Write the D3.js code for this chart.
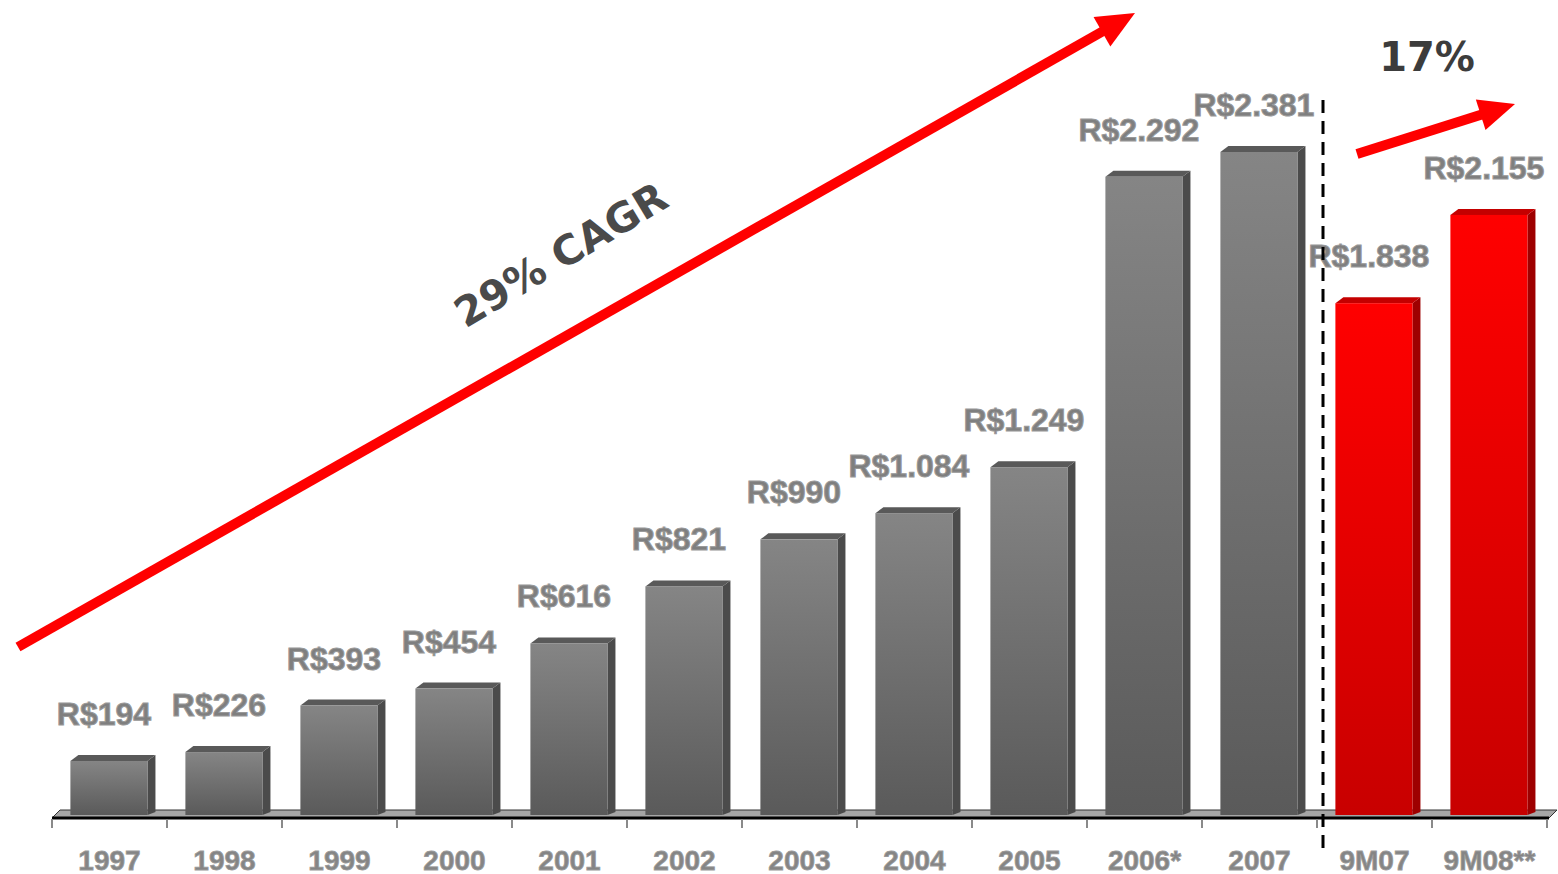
<!DOCTYPE html>
<html>
<head>
<meta charset="utf-8">
<script src="https://cdn.jsdelivr.net/npm/d3@7"></script>
<style>
  body { margin: 0; background: #fff; }
  svg { display: block; }
</style>
</head>
<body>
<div id="chart"></div>
<script>
var categories = ["1997", "1998", "1999", "2000", "2001", "2002", "2003", "2004", "2005", "2006*", "2007", "9M07", "9M08**"];
var values = [194, 226, 393, 454, 616, 821, 990, 1084, 1249, 2292, 2381, 1838, 2155];
var valueLabels = ["R$194", "R$226", "R$393", "R$454", "R$616", "R$821", "R$990", "R$1.084", "R$1.249", "R$2.292", "R$2.381", "R$1.838", "R$2.155"];
var highlighted = ["9M07", "9M08**"];
var cagrText = "29% CAGR";
var growthText = "17%";

var width = 1558;
var height = 874;
var baseY = 815;
var depth = 8;
var rise = 6;

var svg = d3.select("#chart").append("svg").attr("width", width).attr("height", height);

var defs = svg.append("defs");
var gGrey = defs.append("linearGradient").attr("id", "grey").attr("x1", 0).attr("y1", 0).attr("x2", 0).attr("y2", 1);
gGrey.append("stop").attr("offset", "0%").attr("stop-color", "#858585");
gGrey.append("stop").attr("offset", "100%").attr("stop-color", "#5a5a5a");
var gRed = defs.append("linearGradient").attr("id", "red").attr("x1", 0).attr("y1", 0).attr("x2", 0).attr("y2", 1);
gRed.append("stop").attr("offset", "0%").attr("stop-color", "#ff0000");
gRed.append("stop").attr("offset", "100%").attr("stop-color", "#c80000");

var x = d3.scaleBand().domain(categories).range([52, 1547]).padding(0);
var y = d3.scaleLinear().domain([0, 2381]).range([baseY, 152]);

var frontOff = x.bandwidth() * 0.16;
var frontW = x.bandwidth() * 0.67;

// floor / axis
var x0 = x.range()[0], x1 = x.range()[1];
svg.append("polygon")
  .attr("points", [[x0, 818], [x0 + depth, 810], [x1 + depth + 2, 810], [x1 + 2, 818]].join(" "))
  .attr("fill", "#a6a6a6")
  .attr("stroke", "#333")
  .attr("stroke-width", 1);
svg.append("line")
  .attr("x1", x0).attr("x2", x1 + 2)
  .attr("y1", 818).attr("y2", 818)
  .attr("stroke", "#000").attr("stroke-width", 3);

var ticks = categories.map(function (c) { return x(c); }).concat([x1]);
svg.selectAll(".tick")
  .data(ticks)
  .enter()
  .append("line")
  .attr("class", "tick")
  .attr("x1", function (d) { return d; })
  .attr("x2", function (d) { return d; })
  .attr("y1", 819).attr("y2", 828)
  .attr("stroke", "#8a8a8a").attr("stroke-width", 2);

// bars
var bars = svg.selectAll(".bar")
  .data(categories)
  .enter()
  .append("g")
  .attr("class", "bar");

function isRed(c) { return highlighted.indexOf(c) >= 0; }

bars.append("polygon")
  .attr("points", function (c, i) {
    var l = x(c) + frontOff + frontW, t = y(values[i]);
    return [[l, t], [l + depth, t - rise], [l + depth, baseY - 3], [l, baseY]].join(" ");
  })
  .attr("fill", function (c) { return isRed(c) ? "#9e0000" : "#4b4b4b"; });

bars.append("polygon")
  .attr("points", function (c, i) {
    var l = x(c) + frontOff, t = y(values[i]);
    return [[l, t], [l + depth, t - rise], [l + frontW + depth, t - rise], [l + frontW, t]].join(" ");
  })
  .attr("fill", function (c) { return isRed(c) ? "#c40000" : "#595959"; });

bars.append("rect")
  .attr("x", function (c) { return x(c) + frontOff; })
  .attr("y", function (c, i) { return y(values[i]); })
  .attr("width", frontW)
  .attr("height", function (c, i) { return baseY - y(values[i]); })
  .attr("fill", function (c) { return isRed(c) ? "url(#red)" : "url(#grey)"; });

// value labels
svg.selectAll(".val")
  .data(categories)
  .enter()
  .append("text")
  .attr("class", "val")
  .attr("x", function (c) { return x(c) + frontOff + frontW / 2 - 5; })
  .attr("y", function (c, i) { return y(values[i]) - 47; })
  .attr("text-anchor", "middle")
  .attr("dominant-baseline", "central")
  .style("font-family", "'Liberation Sans', Arial, sans-serif")
  .style("font-weight", "bold")
  .style("font-size", "32px")
  .attr("fill", "#7f7f7f")
  .attr("stroke", "#999")
  .attr("stroke-width", 1)
  .text(function (c, i) { return valueLabels[i]; });

// category labels
svg.selectAll(".cat")
  .data(categories)
  .enter()
  .append("text")
  .attr("class", "cat")
  .attr("x", function (c) { return x(c) + x.bandwidth() / 2; })
  .attr("y", 860)
  .attr("text-anchor", "middle")
  .attr("dominant-baseline", "central")
  .style("font-family", "'Liberation Sans', Arial, sans-serif")
  .style("font-weight", "bold")
  .style("font-size", "28px")
  .attr("fill", "#858585")
  .attr("stroke", "#9a9a9a")
  .attr("stroke-width", 0.8)
  .text(function (c) { return c; });

// dashed divider
var divX = (x("2007") + x.bandwidth() + x("9M07")) / 2 + 6;
svg.append("line")
  .attr("x1", divX).attr("x2", divX)
  .attr("y1", 100).attr("y2", 850)
  .attr("stroke", "#000")
  .attr("stroke-width", 3)
  .attr("stroke-dasharray", "13,8");

// arrows
function arrow(sx, sy, tx, ty, headLen, headW, sw) {
  var a = Math.atan2(ty - sy, tx - sx);
  var bx = tx - headLen * Math.cos(a), by = ty - headLen * Math.sin(a);
  svg.append("line")
    .attr("x1", sx).attr("y1", sy)
    .attr("x2", bx + 2 * Math.cos(a)).attr("y2", by + 2 * Math.sin(a))
    .attr("stroke", "#ff0000").attr("stroke-width", sw);
  var px = -Math.sin(a), py = Math.cos(a);
  svg.append("polygon")
    .attr("points", [[tx, ty], [bx + px * headW, by + py * headW], [bx - px * headW, by - py * headW]].join(" "))
    .attr("fill", "#ff0000");
}
arrow(18, 647, 1135, 13, 38, 17, 10);
arrow(1357, 154, 1515, 104, 36, 16, 10);

// annotations
svg.append("text")
  .attr("transform", "translate(561,255) rotate(-31)")
  .attr("text-anchor", "middle")
  .attr("dominant-baseline", "central")
  .style("font-family", "'DejaVu Sans', Verdana, sans-serif")
  .style("font-weight", "bold")
  .style("font-size", "41px")
  .attr("fill", "#4a4a4a")
  .text(cagrText);

svg.append("text")
  .attr("x", 1427).attr("y", 57)
  .attr("text-anchor", "middle")
  .attr("dominant-baseline", "central")
  .style("font-family", "'DejaVu Sans', Verdana, sans-serif")
  .style("font-weight", "bold")
  .style("font-size", "40px")
  .attr("fill", "#3c3c3c")
  .text(growthText);
</script>
</body>
</html>
